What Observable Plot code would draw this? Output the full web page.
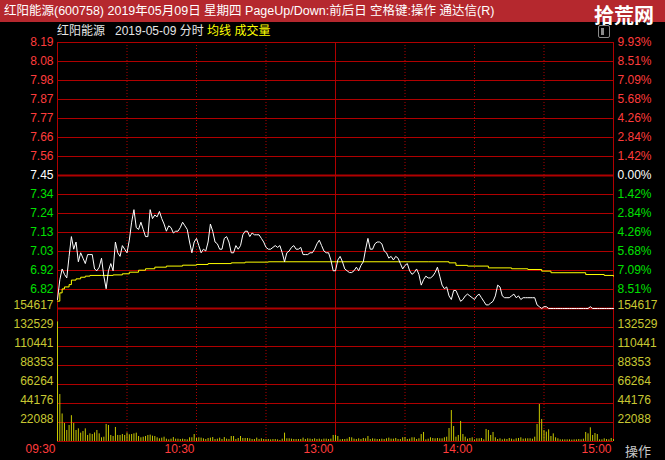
<!DOCTYPE html>
<html><head><meta charset="utf-8">
<script src="https://cdn.jsdelivr.net/npm/d3@7"></script>
<script src="https://cdn.jsdelivr.net/npm/@observablehq/plot@0.6"></script>
<style>
html,body{margin:0;padding:0;background:#000;}
#wrap{position:relative;width:665px;height:460px;overflow:hidden;background:#000;font-family:"Liberation Sans","Noto Sans CJK SC",sans-serif;}
#title{position:absolute;left:0;top:0;width:665px;height:22px;background:#b5282e;color:#fff;white-space:nowrap;}
#title .t{position:absolute;left:4px;top:3px;font-size:12.5px;line-height:16px;}
#mark{position:absolute;left:594px;top:0px;font-size:20px;line-height:normal;font-weight:bold;font-family:"Noto Sans CJK SC";color:#fff;white-space:nowrap;z-index:4;}
#sub{position:absolute;left:57px;top:23px;font-size:12px;color:#e6e6e6;line-height:17px;white-space:nowrap;z-index:3;}
#sub .y{color:#ffff00;}
#icon{position:absolute;left:598px;top:25px;width:10px;height:11px;border:1px solid #8a8a8a;border-radius:2px;z-index:3;}
#icon div{position:absolute;left:2px;top:2px;width:3px;height:7px;background:#8a8a8a;}
.svgbox{position:absolute;left:0;}
#op{position:absolute;left:625px;top:443px;font-size:13px;color:#c8c8c8;font-family:"Noto Sans CJK SC";line-height:16px;}
</style></head><body>
<div id="wrap">
  <div id="title"><span class="t">红阳能源(600758) 2019年05月09日 星期四 PageUp/Down:前后日 空格键:操作 通达信(R)</span></div>
  <div id="mark">拾荒网</div>
  <div id="sub">红阳能源&nbsp;&nbsp;&nbsp;2019-05-09 分时 <span class="y">均线</span> <span class="y">成交量</span></div>
  <div id="icon"><div></div></div>
  <div id="volbox" class="svgbox" style="top:300px"></div>
  <div id="pricebox" class="svgbox" style="top:24px"></div>
  <div id="op">操作</div>
</div>
<script>
// ---------- data ----------
const prevClose = 7.45;
const priceLabels = ["8.19","8.08","7.98","7.87","7.77","7.66","7.56","7.45","7.34","7.24","7.13","7.03","6.92","6.82"];
const pctLabels = ["9.93%","8.51%","7.09%","5.68%","4.26%","2.84%","1.42%","0.00%","1.42%","2.84%","4.26%","5.68%","7.09%","8.51%"];
const volLabels = ["154617","132529","110441","88353","66264","44176","22088"];
const volMax = 154617;
const timeLabels = ["09:30","10:30","13:00","14:00","15:00"];
const timeTicks = [0, 60, 120, 180, 240];
const halfHourTicks = [30, 60, 90, 150, 180, 210];
const sessionEdges = [0, 120, 240];

// minute-by-minute price, 09:30 .. 15:00 (241 points)
const price = [
6.76,6.87,6.93,6.90,6.88,7.00,7.11,7.04,7.08,6.97,
7.02,6.99,6.96,7.01,7.01,7.01,6.93,6.92,6.94,6.99,
6.89,6.82,6.92,6.96,6.92,7.08,7.02,7.00,7.06,7.04,
7.02,7.09,7.19,7.26,7.16,7.15,7.19,7.15,7.11,7.11,
7.26,7.21,7.23,7.22,7.25,7.21,7.18,7.14,7.17,7.16,
7.13,7.14,7.14,7.16,7.19,7.17,7.15,7.08,7.02,7.08,
7.10,7.06,7.02,7.04,7.03,7.08,7.18,7.14,7.08,7.07,
7.04,7.04,7.10,7.11,7.08,7.02,7.02,7.06,7.04,7.06,
7.12,7.14,7.14,7.11,7.13,7.12,7.12,7.12,7.10,7.08,
7.05,7.04,7.04,7.05,7.06,7.05,7.06,7.02,6.97,7.02,
7.03,7.05,7.06,7.04,7.04,7.05,7.01,7.01,7.01,7.02,
7.02,7.04,7.07,7.09,7.06,7.03,7.02,7.02,6.98,6.92,
6.92,6.98,7.00,6.97,6.93,6.92,6.91,6.91,6.92,6.94,
6.92,6.95,6.97,7.04,7.10,7.04,7.04,7.07,7.08,7.08,
7.07,7.03,7.02,6.99,7.00,6.98,7.00,6.99,6.96,6.93,
6.95,6.96,6.92,6.90,6.91,6.93,6.90,6.84,6.87,6.89,
6.88,6.88,6.89,6.91,6.94,6.89,6.84,6.82,6.83,6.78,
6.76,6.81,6.81,6.78,6.75,6.76,6.78,6.79,6.78,6.77,
6.76,6.78,6.79,6.77,6.75,6.73,6.73,6.74,6.75,6.78,
6.84,6.83,6.78,6.77,6.77,6.77,6.78,6.79,6.77,6.78,
6.76,6.77,6.77,6.77,6.77,6.77,6.77,6.73,6.72,6.71,
6.72,6.72,6.71,6.71,6.71,6.71,6.71,6.71,6.71,6.71,
6.71,6.71,6.71,6.71,6.71,6.71,6.71,6.71,6.71,6.71,
6.72,6.71,6.71,6.71,6.71,6.71,6.71,6.71,6.71,6.71,
6.71
];

// average-price line, read at its turning points
const avgMinute = [0,1,2,3,5,6,8,10,12,14,19,24,28,31,35,38,42,47,54,60,65,75,81,91,160,169,172,177,186,196,203,209,213,228,236,240];
const avgPrice  = [6.751,6.797,6.819,6.830,6.843,6.868,6.875,6.884,6.890,6.894,6.894,6.897,6.903,6.912,6.923,6.931,6.940,6.946,6.951,6.955,6.960,6.964,6.968,6.970,6.970,6.964,6.950,6.946,6.936,6.931,6.927,6.918,6.909,6.899,6.894,6.890];

// minute-by-minute volume
const volume = [
139000,54600,32000,21000,12800,18600,30000,21000,12800,14700,
9700,11600,14700,7000,8900,8100,10000,12800,8900,4300,
5000,19800,18600,7000,5800,16300,7000,7000,8100,7000,
10000,7800,8100,8900,9700,5800,4300,5000,5800,7000,
7400,6200,5800,4300,3100,3900,5000,2700,1900,2700,
4600,2700,2700,2300,2700,2300,1900,4300,4300,8100,
3500,4300,3900,3100,2300,3500,3900,4600,2300,2700,
3900,2300,4600,2700,2300,5800,5800,2300,3500,5800,
3500,3500,3500,3100,2300,2300,3900,2300,3100,2300,
2300,2300,1900,2300,2300,1900,1200,2700,9700,3100,
3100,2700,2300,2300,2300,2300,3900,2300,3100,2700,
2300,3100,2300,2700,1900,2700,2700,2300,2700,7000,
7000,5800,
1900,2300,2300,2700,4600,4300,2700,2300,3100,2300,
3500,3100,5800,2300,3100,2700,2300,2300,2700,2300,
3100,3900,2700,2700,3500,2300,2300,4300,4600,2300,
2700,4300,4300,2300,3100,8100,10500,1900,2700,4300,
3500,3100,3500,3100,3100,4300,5000,15100,36000,17400,
5000,7000,23300,8100,5000,2700,3500,4300,1900,3100,
3100,3500,1900,14000,12800,7000,10500,4300,2300,3100,
1900,2700,2300,3500,2700,1900,3100,3500,4300,2700,
3100,3100,3100,2700,5000,19800,43000,25600,12800,10900,
13600,5800,8900,4300,3100,1900,1900,1900,1900,1900,
1600,1900,1900,2300,1900,2700,10500,8900,15900,7000,
9300,8100,1900,1900,3100,2300,1900,3500,2300
];

// ---------- style ----------
const FONT = "'Liberation Sans','Noto Sans CJK SC',sans-serif";
const gridRed = "#b00000";
const upRed = "#ff3c3c", downGreen = "#00e000", volYellow = "#c8c800", labelYellow = "#c8c832";

const span = +priceLabels[0] - prevClose;
const priceLevels = priceLabels.map((s, i) => ({i, v: prevClose + (7 - i) * span / 7, label: s, pct: pctLabels[i]}));
const labelColor = d => d.i < 7 ? upRed : d.i === 7 ? "#ffffff" : downGreen;
const priceSeries = price.map((p, t) => ({t, p}));
const avgSeries = avgMinute.map((t, k) => ({t, p: avgPrice[k]}));
const volSeries = volume.map((v, t) => ({t, v}));
const volLevels = volLabels.map((s, i) => ({v: volMax * (7 - i) / 7, label: s}));

const common = {
  width: 665, marginLeft: 57, marginRight: 52,
  style: {background: "transparent", overflow: "visible", fontFamily: FONT, fontSize: "12px"},
  x: {domain: [0, 240], axis: null}
};

const pricePlot = Plot.plot({
  ...common,
  height: 286, marginTop: 18, marginBottom: 2,
  y: {domain: [prevClose - span, prevClose + span], axis: null},
  marks: [
    Plot.ruleY(priceLevels.filter(d => d.i !== 7), {y: "v", stroke: gridRed, strokeWidth: 1}),
    Plot.ruleY(priceLevels.filter(d => d.i === 7), {y: "v", stroke: gridRed, strokeWidth: 2}),
    Plot.ruleX(halfHourTicks, {stroke: gridRed, strokeDasharray: "1,2"}),
    Plot.ruleX(sessionEdges, {stroke: gridRed}),
    Plot.ruleY([prevClose - span], {stroke: gridRed, strokeWidth: 2}),
    Plot.line(avgSeries, {x: "t", y: "p", stroke: "#ffff00", strokeWidth: 1, curve: "step-after"}),
    Plot.line(priceSeries, {x: "t", y: "p", stroke: "#ffffff", strokeWidth: 1}),
    Plot.text(priceLevels, {y: "v", text: "label", fill: labelColor, frameAnchor: "left", textAnchor: "end", dx: -4, fontSize: 12}),
    Plot.text(priceLevels, {y: "v", text: "pct", fill: labelColor, frameAnchor: "right", textAnchor: "start", dx: 4, fontSize: 12})
  ]
});

const volPlot = Plot.plot({
  ...common,
  height: 160, marginTop: 8, marginBottom: 19,
  y: {domain: [0, volMax], axis: null},
  marks: [
    Plot.ruleY(volLevels, {y: "v", stroke: gridRed}),
    Plot.ruleY([0], {stroke: gridRed}),
    Plot.ruleX(halfHourTicks, {stroke: gridRed, strokeDasharray: "1,2"}),
    Plot.ruleX(sessionEdges, {stroke: gridRed}),
    Plot.ruleX(volSeries, {x: "t", y1: 0, y2: "v", stroke: volYellow, strokeWidth: 1}),
    Plot.text(volLevels, {y: "v", text: "label", fill: labelYellow, frameAnchor: "left", textAnchor: "end", dx: -4, dy: -3, fontSize: 12}),
    Plot.text(volLevels, {y: "v", text: "label", fill: labelYellow, frameAnchor: "right", textAnchor: "start", dx: 4, dy: -3, fontSize: 12}),
    Plot.text(timeTicks, {x: d => d, text: (d, i) => timeLabels[i], frameAnchor: "bottom", textAnchor: "end", dx: -2, dy: 11, fill: upRed, fontSize: 12})
  ]
});

document.getElementById("pricebox").appendChild(pricePlot);
document.getElementById("volbox").appendChild(volPlot);
</script>
</body></html>
